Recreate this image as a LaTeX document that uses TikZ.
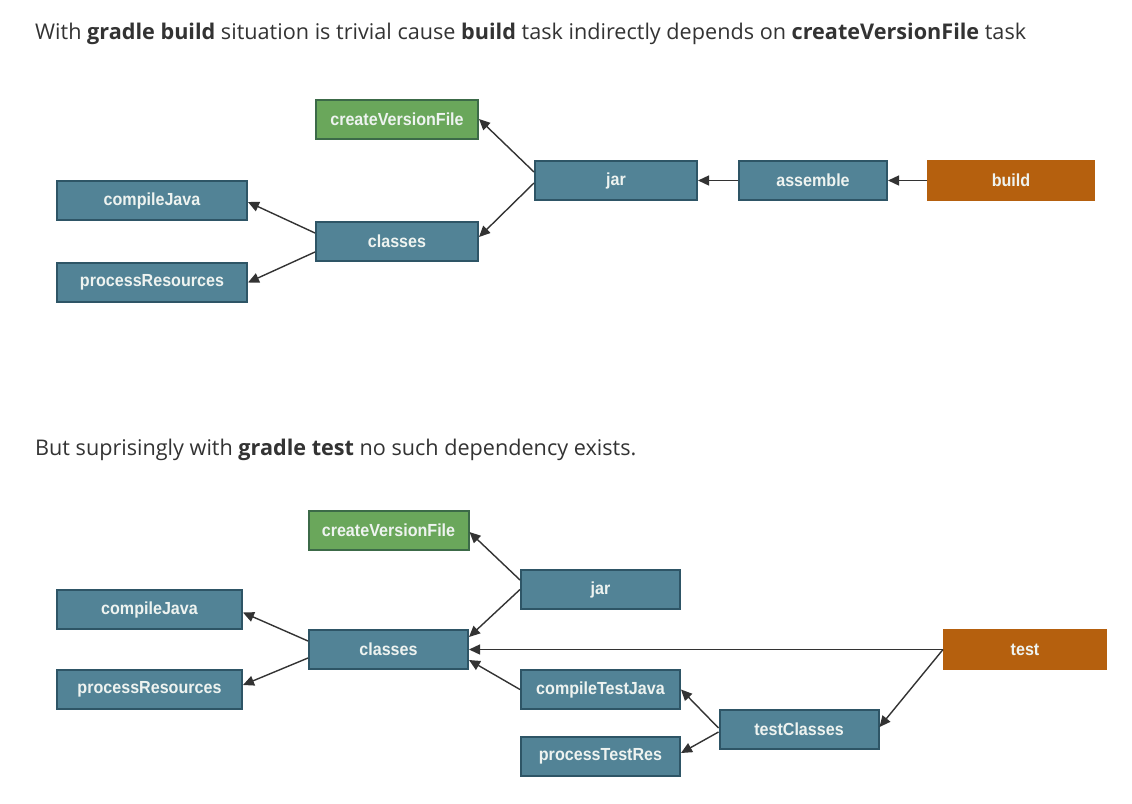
\documentclass[tikz,border=0pt]{standalone}
\usepackage{fontspec}
\setmainfont{Open Sans}
\newfontfamily\boxfont[FakeStretch=0.92]{Liberation Sans}
\usetikzlibrary{arrows.meta}
\definecolor{teal}{HTML}{528396}
\definecolor{tealb}{HTML}{2E5566}
\definecolor{grn}{HTML}{6AA75B}
\definecolor{grnb}{HTML}{3C6A48}
\definecolor{orng}{HTML}{B5600E}
\definecolor{boxtxt}{HTML}{EEF3F0}
\definecolor{txt}{HTML}{333333}
\definecolor{edgec}{HTML}{333333}
\tikzset{
  task/.style={draw=tealb, fill=teal, line width=2pt, text=boxtxt,
    font=\boxfont\fontsize{17.5}{20}\selectfont\bfseries, inner sep=0pt,
    minimum height=39pt},
  greentask/.style={task, draw=grnb, fill=grn},
  orangetask/.style={task, draw=orng, fill=orng},
  dep/.style={draw=edgec, line width=1.4pt, -{Triangle[length=11pt,width=10pt]}},
  heading/.style={anchor=base west, inner sep=0pt, text=txt}
}
\begin{document}
\begin{tikzpicture}[x=1pt,y=-1pt]
\useasboundingbox[fill=white] (0,0) rectangle (1132,803);

% headings
\node[heading] (h1) at (35,39) {\resizebox{991pt}{!}{With \textbf{gradle build} situation is trivial cause \textbf{build} task indirectly depends on \textbf{createVersionFile} task}};
\node[heading] (h2) at (35,455) {\resizebox{601pt}{!}{But suprisingly with \textbf{gradle test} no such dependency exists.}};

% ---- top diagram ----
\node[greentask, minimum width=162pt] (cvf1) at (397,119) {createVersionFile};
\node[task, minimum width=162pt] (jar1) at (616,180.5) {jar};
\node[task, minimum width=148pt] (asm1) at (813,180.5) {assemble};
\node[orangetask, minimum width=166pt] (build1) at (1011,180.5) {build};
\node[task, minimum width=190pt] (cj1) at (152,200.5) {compileJava};
\node[task, minimum width=162pt] (cls1) at (397,241.5) {classes};
\node[task, minimum width=190pt] (pr1) at (152,282.5) {processResources};

\draw[dep] ([yshift=8.5pt]jar1.west) -- (cvf1.east);
\draw[dep] ([yshift=-2.5pt]jar1.west) -- ([yshift=4.5pt]cls1.east);
\draw[dep] (asm1.west) -- (jar1.east);
\draw[dep] (build1.west) -- (asm1.east);
\draw[dep] ([yshift=8.5pt]cls1.west) -- ([yshift=-1.5pt]cj1.east);
\draw[dep] ([yshift=-10.5pt]cls1.west) -- (pr1.east);

% ---- bottom diagram ----
\node[greentask, minimum width=160pt] (cvf2) at (388.5,530.5) {createVersionFile};
\node[task, minimum width=159pt] (jar2) at (600.5,589.5) {jar};
\node[task, minimum width=185pt] (cj2) at (149.5,609.5) {compileJava};
\node[task, minimum width=159pt] (cls2) at (388.5,649.5) {classes};
\node[orangetask, minimum width=162pt] (test2) at (1025,649.5) {test};
\node[task, minimum width=185pt] (pr2) at (149.5,689.5) {processResources};
\node[task, minimum width=159pt] (ctj2) at (600.5,689.5) {compileTestJava};
\node[task, minimum width=159pt] (tc2) at (799,729.5) {testClasses};
\node[task, minimum width=159pt] (ptr2) at (600.5,756) {processTestRes};

\draw[dep] ([yshift=9.5pt]jar2.west) -- ([yshift=-1.5pt]cvf2.east);
\draw[dep] (jar2.west) -- ([yshift=12.5pt]cls2.east);
\draw[dep] (test2.west) -- (cls2.east);
\draw[dep] (ctj2.west) -- ([yshift=-10.5pt]cls2.east);
\draw[dep] (test2.west) -- ([yshift=2.5pt]tc2.east);
\draw[dep] ([yshift=1.5pt]tc2.west) -- (ctj2.east);
\draw[dep] ([yshift=-2.5pt]tc2.west) -- ([yshift=3pt]ptr2.east);
\draw[dep] ([yshift=8.5pt]cls2.west) -- ([yshift=-3pt]cj2.east);
\draw[dep] ([yshift=-8.5pt]cls2.west) -- ([yshift=4.5pt]pr2.east);
\end{tikzpicture}
\end{document}
